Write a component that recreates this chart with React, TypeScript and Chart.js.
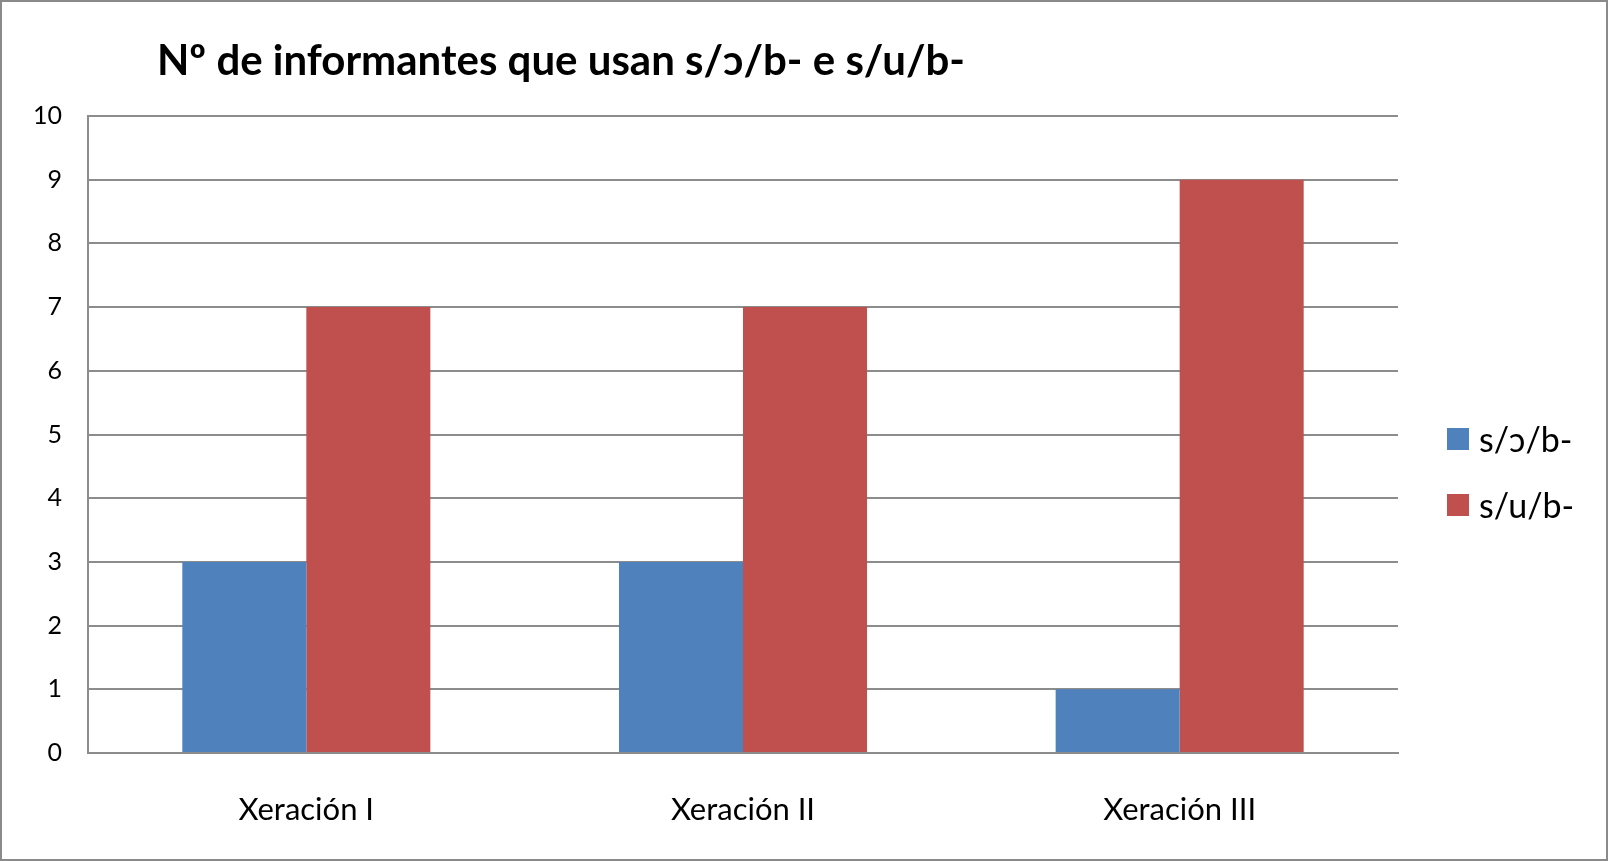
import React, { useEffect, useRef } from "react";
import { Chart, registerables } from "chart.js";

Chart.register(...registerables);

const categories = ["Xeración I", "Xeración II", "Xeración III"];
const seriesLabels = ["s/ɔ/b-", "s/u/b-"];
const seriesOpen = [3, 3, 1];
const seriesU = [7, 7, 9];
const seriesColors = ["#4F81BD", "#C0504D"];
const titleText = "Nº de informantes que usan s/ɔ/b- e s/u/b-";
const yMin = 0;
const yMax = 10;
const yStep = 1;

const FONT = "Lato, 'Open Sans', sans-serif";

const framePlugin = {
  id: "frame",
  beforeDraw(chart: any) {
    const { ctx, width, height } = chart;
    ctx.save();
    ctx.fillStyle = "#ffffff";
    ctx.fillRect(0, 0, width, height);
    ctx.restore();
  },
  afterDraw(chart: any) {
    const { ctx, width, height } = chart;
    ctx.save();
    ctx.strokeStyle = "#8a8a8a";
    ctx.lineWidth = 2;
    ctx.strokeRect(1, 1, width - 2, height - 2);
    // title
    ctx.fillStyle = "#000000";
    ctx.font = `bold 42px ${FONT}`;
    ctx.textBaseline = "alphabetic";
    ctx.textAlign = "left";
    ctx.fillText(titleText, 157, 75);
    // legend
    const ds = chart.data.datasets;
    ctx.font = `34px ${FONT}`;
    ctx.textBaseline = "alphabetic";
    ds.forEach((d: any, i: number) => {
      const y = 428 + i * 66;
      ctx.fillStyle = d.backgroundColor;
      ctx.fillRect(1447, y, 22, 22);
      ctx.fillStyle = "#000000";
      ctx.fillText(d.label, 1479, y + 24);
    });
    ctx.restore();
  },
};

export default function App() {
  const ref = useRef<HTMLCanvasElement | null>(null);
  useEffect(() => {
    if (!ref.current) return;
    const chart = new Chart(ref.current, {
      type: "bar",
      data: {
        labels: categories,
        datasets: [
          { label: seriesLabels[0], data: seriesOpen, backgroundColor: seriesColors[0] },
          { label: seriesLabels[1], data: seriesU, backgroundColor: seriesColors[1] },
        ],
      },
      options: {
        animation: false,
        responsive: false,
        maintainAspectRatio: false,
        layout: { padding: { top: 116, right: 210, bottom: 0, left: 0 } },
        datasets: { bar: { categoryPercentage: 0.568, barPercentage: 1 } },
        plugins: {
          legend: { display: false },
          title: { display: false },
          tooltip: { enabled: false },
        },
        scales: {
          x: {
            grid: { display: false, drawTicks: false },
            border: { display: true, color: "#8c8c8c", width: 2 },
            ticks: { color: "#000", font: { family: FONT, size: 31 }, padding: 38 },
            afterFit(scale: any) {
              scale.height = 861 - 753;
            },
          },
          y: {
            min: yMin,
            max: yMax,
            grid: { color: "#8c8c8c", lineWidth: 2, drawTicks: false },
            border: { display: true, color: "#8c8c8c", width: 2 },
            ticks: { stepSize: yStep, color: "#000", font: { family: FONT, size: 25 }, padding: 26 },
            afterFit(scale: any) {
              scale.width = 88;
            },
          },
        },
      },
      plugins: [framePlugin],
    });
    return () => chart.destroy();
  }, []);
  return (
    <div style={{ position: "fixed", left: 0, top: 0, width: 1608, height: 861 }}>
      <canvas ref={ref} width={1608} height={861} style={{ display: "block" }} />
    </div>
  );
}
